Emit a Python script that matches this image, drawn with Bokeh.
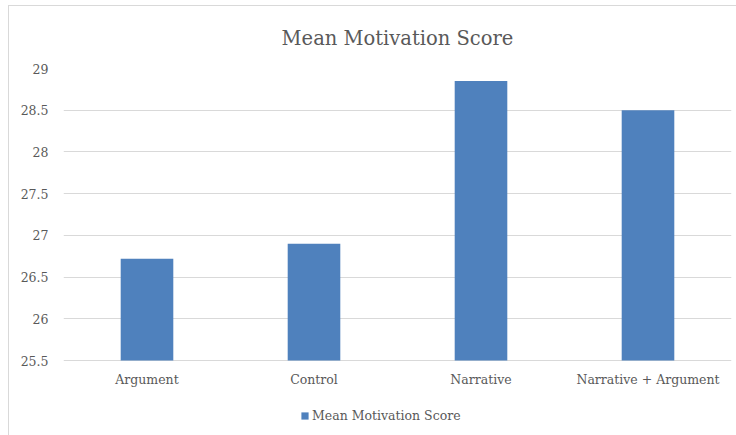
from bokeh.plotting import figure
from bokeh.models import FactorRange, Range1d, FixedTicker, Legend, LegendItem
from bokeh.core.properties import value
from bokeh.embed import file_html
from bokeh.resources import INLINE

# Mean motivation score per condition
categories = ["Argument", "Control", "Narrative", "Narrative + Argument"]
scores = [26.72, 26.90, 28.85, 28.50]
series_name = "Mean Motivation Score"
y_ticks = [25.5, 26, 26.5, 27, 27.5, 28, 28.5, 29]
y_tick_labels = ["25.5", "26", "26.5", "27", "27.5", "28", "28.5", "29"]

TEXT = "#595959"
GRID = "#d9d9d9"
BAR = "#4f81bd"
SERIF = "DejaVu Serif"

# Value axis spans 25.5..29 over 292 px; the frame continues 75 px lower
# so the category labels and the legend sit inside it.
Y_LO, Y_HI = y_ticks[0], y_ticks[-1]
AXIS_PX, EXTRA_PX = 292, 75
y_start = Y_LO - EXTRA_PX * (Y_HI - Y_LO) / AXIS_PX

p = figure(
    x_range=FactorRange(*categories, range_padding=0),
    y_range=Range1d(y_start, Y_HI),
    frame_width=668, frame_height=AXIS_PX + EXTRA_PX,
    x_axis_location=None,
    output_backend="svg", toolbar_location=None,
    min_border_left=54, min_border_right=5,
    min_border_top=62, min_border_bottom=0,
)
p.styles = {
    "margin-left": "8px", "margin-top": "5px",
    "border-left": f"1px solid {GRID}", "border-top": f"1px solid {GRID}",
}
p.outline_line_color = None
p.background_fill_color = "white"
p.border_fill_color = "white"

r = p.vbar(x=categories, top=scores, bottom=Y_LO, width=0.315,
           fill_color=BAR, line_color=None)

# Category labels under the baseline
p.text(x=categories, y=[Y_LO] * len(categories), text=categories,
       y_offset=11, text_align="center", text_baseline="top",
       text_font=value(SERIF), text_font_size=value("12.5px"),
       text_color=TEXT)

# Title
p.title.text = series_name
p.title.align = "center"
p.title.text_font = SERIF
p.title.text_font_size = "19.5px"
p.title.text_font_style = "normal"
p.title.text_color = TEXT
p.title.standoff = 37

# Value axis
p.yaxis.ticker = FixedTicker(ticks=y_ticks)
p.yaxis.major_label_overrides = dict(zip(y_ticks, y_tick_labels))
p.yaxis.axis_line_color = None
p.yaxis.major_tick_line_color = None
p.yaxis.minor_tick_line_color = None
p.yaxis.major_tick_out = 0
p.yaxis.major_tick_in = 0
p.yaxis.major_label_standoff = 15
p.yaxis.major_label_text_font = SERIF
p.yaxis.major_label_text_font_size = "12.5px"
p.yaxis.major_label_text_color = TEXT

p.xgrid.grid_line_color = None
p.ygrid.grid_line_color = GRID

# Series legend underneath the category labels
legend = Legend(
    items=[LegendItem(label=series_name, renderers=[r])],
    location=(237, 12), orientation="horizontal",
    glyph_width=9, glyph_height=9,
    label_text_font=SERIF, label_text_font_size="12.5px", label_text_color=TEXT,
    label_standoff=3, padding=0, margin=0, spacing=0,
    background_fill_alpha=0, border_line_color=None,
)
p.add_layout(legend, "center")

open("out.html", "w").write(file_html(p, INLINE))
